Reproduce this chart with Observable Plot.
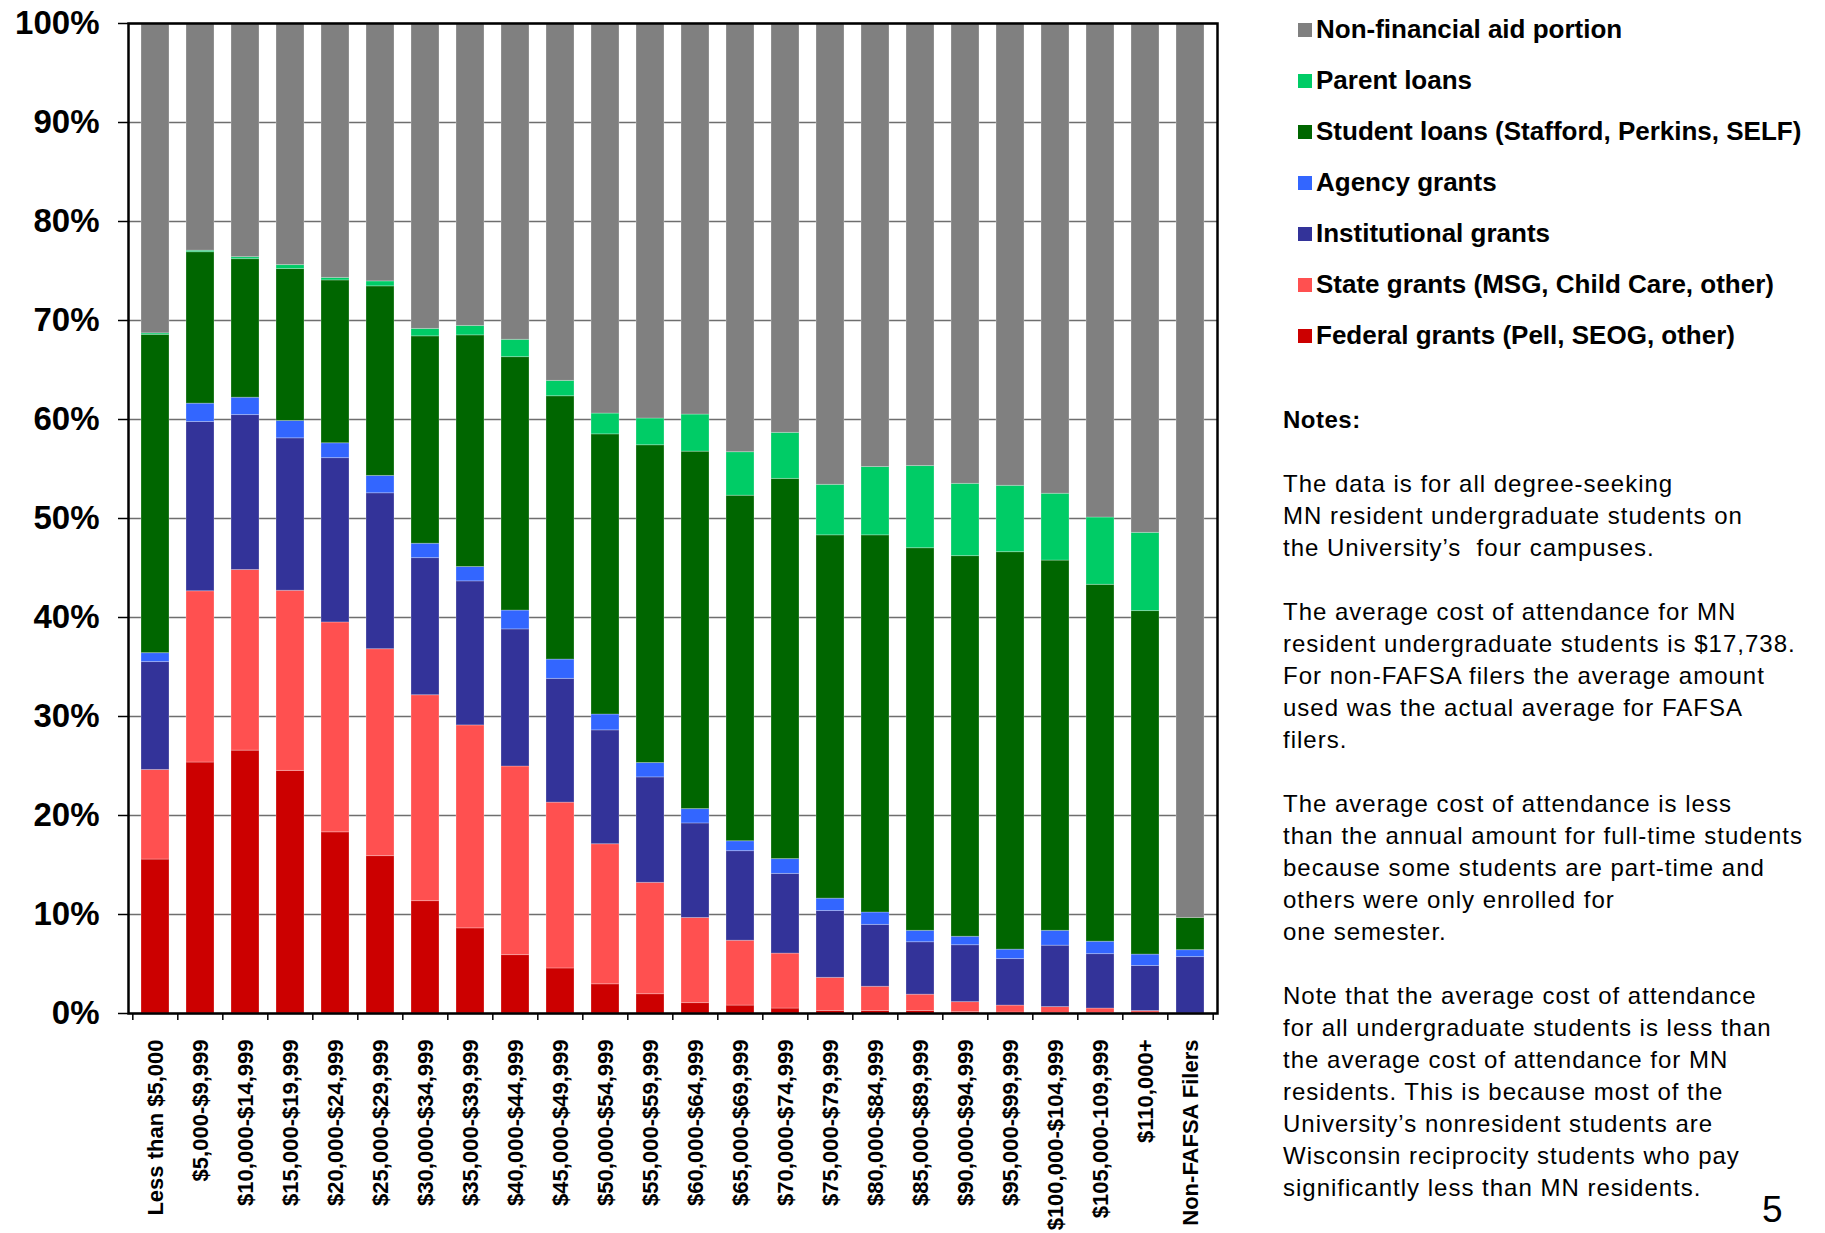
<!DOCTYPE html>
<html>
<head>
<meta charset="utf-8">
<script src="https://cdn.jsdelivr.net/npm/d3@7"></script>
<script src="https://cdn.jsdelivr.net/npm/@observablehq/plot@0.6"></script>
<style>
html, body { margin: 0; padding: 0; background: #fff; overflow: hidden; }
body { font-family: "Liberation Sans", Arial, sans-serif; color: #000; }
#wrap { position: relative; width: 1825px; height: 1233px; overflow: hidden; }
#chart { position: absolute; left: 0; top: 0; }
#legend { position: absolute; left: 1298px; top: 4px; }
.row { height: 51px; display: flex; align-items: center; font-weight: bold; font-size: 26px; white-space: nowrap; }
.sw { width: 14px; height: 14px; margin-right: 4px; flex: none; }
#notes { position: absolute; left: 1283px; top: 404px; font-size: 24px; letter-spacing: 1px; }
#notes div { height: 32px; line-height: 32px; white-space: pre; }
#notes .head { font-weight: bold; letter-spacing: 0.5px; }
#page { position: absolute; left: 1762px; top: 1189px; font-size: 37px; line-height: normal; }
</style>
</head>
<body>
<div id="wrap">
  <div id="chart"></div>
  <div id="legend"></div>
  <div id="notes"></div>
  <div id="page">5</div>
</div>
<script>
const categories = [
  "Less than $5,000", "$5,000-$9,999", "$10,000-$14,999", "$15,000-$19,999",
  "$20,000-$24,999", "$25,000-$29,999", "$30,000-$34,999", "$35,000-$39,999",
  "$40,000-$44,999", "$45,000-$49,999", "$50,000-$54,999", "$55,000-$59,999",
  "$60,000-$64,999", "$65,000-$69,999", "$70,000-$74,999", "$75,000-$79,999",
  "$80,000-$84,999", "$85,000-$89,999", "$90,000-$94,999", "$95,000-$99,999",
  "$100,000-$104,999", "$105,000-109,999", "$110,000+", "Non-FAFSA Filers"
];

// Segment values in percent of cost of attendance (bottom to top)
const federal       = [15.55, 25.35, 26.55, 24.5, 18.3, 15.9, 11.35, 8.6, 5.9, 4.55, 2.95, 1.95, 1.05, 0.8, 0.5, 0.25, 0.25, 0.25, 0.15, 0.1, 0.05, 0.05, 0.1, 0];
const stateGrants   = [9.05, 17.3, 18.25, 18.2, 21.2, 20.9, 20.8, 20.5, 19.05, 16.75, 14.15, 11.25, 8.6, 6.55, 5.55, 3.35, 2.45, 1.65, 1.0, 0.7, 0.6, 0.45, 0.15, 0];
const institutional = [10.9, 17.1, 15.65, 15.4, 16.6, 15.75, 13.85, 14.55, 13.85, 12.5, 11.5, 10.65, 9.55, 9.05, 8.05, 6.75, 6.25, 5.3, 5.75, 4.7, 6.2, 5.5, 4.55, 5.7];
const agency        = [0.9, 1.85, 1.75, 1.75, 1.5, 1.75, 1.45, 1.45, 1.9, 1.95, 1.6, 1.45, 1.45, 1.0, 1.5, 1.25, 1.25, 1.15, 0.85, 0.95, 1.5, 1.25, 1.15, 0.7];
const studentLoans  = [32.15, 15.3, 14.0, 15.35, 16.45, 19.15, 20.95, 23.4, 25.6, 26.6, 28.3, 32.1, 36.1, 34.9, 38.4, 36.7, 38.1, 38.65, 38.45, 40.15, 37.4, 36.05, 34.7, 3.25];
const parentLoans   = [0.15, 0.15, 0.2, 0.4, 0.25, 0.5, 0.75, 0.95, 1.75, 1.55, 2.1, 2.7, 3.75, 4.4, 4.65, 5.1, 6.9, 8.3, 7.3, 6.7, 6.75, 6.8, 7.9, 0];
const nonAid        = [31.3, 22.95, 23.6, 24.4, 25.7, 26.05, 30.85, 30.55, 31.95, 36.1, 39.4, 39.9, 39.5, 43.3, 41.35, 46.6, 44.8, 44.7, 46.5, 46.7, 47.5, 49.9, 51.45, 90.35];

const seriesNames = [
  "Federal grants (Pell, SEOG, other)",
  "State grants (MSG, Child Care, other)",
  "Institutional grants",
  "Agency grants",
  "Student loans (Stafford, Perkins, SELF)",
  "Parent loans",
  "Non-financial aid portion"
];
const seriesColors = ["#CC0000", "#FF5050", "#333399", "#3366FF", "#006600", "#00CC66", "#808080"];
const yTicks = [0, 10, 20, 30, 40, 50, 60, 70, 80, 90, 100];

const seriesValues = [federal, stateGrants, institutional, agency, studentLoans, parentLoans, nonAid];
const rows = [];
seriesNames.forEach((s, i) => {
  categories.forEach((c, j) => {
    const v = seriesValues[i][j];
    if (v > 0) rows.push({category: c, series: s, value: v});
  });
});

const W = 1240, H = 1233;
const mL = 128, mR = 23, mT = 23, mB = 220;
const step = (W - mL - mR) / categories.length;

const chart = Plot.plot({
  width: W,
  height: H,
  marginLeft: mL,
  marginRight: mR,
  marginTop: mT,
  marginBottom: mB,
  style: {fontFamily: '"Liberation Sans", Arial, sans-serif', background: "white", color: "black", overflow: "visible"},
  x: {domain: categories, paddingInner: 0.38, paddingOuter: 0.19, label: null},
  y: {domain: [0, 100], label: null},
  color: {domain: seriesNames, range: seriesColors},
  marks: [
    Plot.gridY(yTicks, {stroke: "#6e6e6e", strokeOpacity: 1, strokeWidth: 1.5}),
    Plot.barY(rows, {x: "category", y: "value", fill: "series", order: seriesNames,
      stroke: "white", strokeOpacity: 0.25, strokeWidth: 1}),
    Plot.frame({stroke: "black", strokeWidth: 2.5}),
    Plot.axisY(yTicks, {tickSize: 10, tickPadding: 19, tickFormat: d => d + "%",
      fontSize: 33, fontWeight: "bold", strokeWidth: 1.5, label: null}),
    Plot.axisX({tickSize: 7, fill: "none", dx: -step / 2, strokeWidth: 1.5, label: null}),
    Plot.axisX([categories[categories.length - 1]], {tickSize: 7, fill: "none", dx: step / 2, strokeWidth: 1.5, label: null}),
    Plot.axisX({tickSize: 0, tickPadding: 26, tickRotate: -90, fontSize: 22, fontWeight: "bold", label: null})
  ]
});
document.getElementById("chart").appendChild(chart);

// Legend (top to bottom, reverse of stack order)
const legend = document.getElementById("legend");
for (let i = seriesNames.length - 1; i >= 0; i--) {
  const row = document.createElement("div");
  row.className = "row";
  const sw = document.createElement("span");
  sw.className = "sw";
  sw.style.background = seriesColors[i];
  const label = document.createElement("span");
  label.textContent = seriesNames[i];
  row.appendChild(sw);
  row.appendChild(label);
  legend.appendChild(row);
}

const noteLines = [
  "",
  "The data is for all degree-seeking",
  "MN resident undergraduate students on",
  "the University\u2019s  four campuses.",
  "",
  "The average cost of attendance for MN",
  "resident undergraduate students is $17,738.",
  "For non-FAFSA filers the average amount",
  "used was the actual average for FAFSA",
  "filers.",
  "",
  "The average cost of attendance is less",
  "than the annual amount for full-time students",
  "because some students are part-time and",
  "others were only enrolled for",
  "one semester.",
  "",
  "Note that the average cost of attendance",
  "for all undergraduate students is less than",
  "the average cost of attendance for MN",
  "residents. This is because most of the",
  "University\u2019s nonresident students are",
  "Wisconsin reciprocity students who pay",
  "significantly less than MN residents."
];
const notes = document.getElementById("notes");
const head = document.createElement("div");
head.className = "head";
head.textContent = "Notes:";
notes.appendChild(head);
noteLines.forEach(t => {
  const d = document.createElement("div");
  d.textContent = t;
  notes.appendChild(d);
});
</script>
</body>
</html>
